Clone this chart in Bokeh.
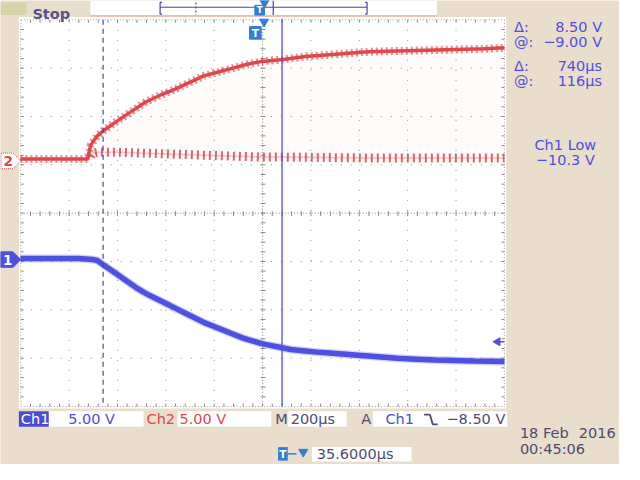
from bokeh.plotting import figure
from bokeh.models import Range1d
from bokeh.core.properties import value
from bokeh.embed import file_html
from bokeh.resources import INLINE

# ---------------- data ----------------
# Ch1 (blue), time relative to trigger in microseconds, volts
ch1_time_us = [-966, -728, -668, -648, -620, -596, -568, -528, -488, -448, -408, -368,
               -328, -288, -248, -208, -168, -128, -88, -48, -8, 32, 72, 112, 152,
               212, 272, 352, 432, 512, 592, 672, 752, 832, 912, 1036]
ch1_volts = [0.1, 0.1, 0.0, -0.1, -0.6, -1.0, -1.5, -2.2, -2.9, -3.5, -4.0, -4.5,
             -5.0, -5.5, -6.0, -6.5, -6.9, -7.3, -7.7, -8.1, -8.4, -8.7, -8.9, -9.1, -9.3,
             -9.45, -9.6, -9.75, -9.9, -10.05, -10.2, -10.3, -10.4, -10.45, -10.5, -10.55]

# Ch2 (red): upper envelope and lower envelope of the switching waveform
ch2_time_us = [-966, -688, -676, -668, -648, -624, -568, -508, -448, -388, -328, -268,
               -208, -148, -88, -28, 32, 120, 212, 312, 392, 472, 552, 632, 712, 792,
               872, 952, 1036]
ch2_upper_volts = [0.2, 0.2, 1.6, 1.9, 2.6, 3.1, 4.1, 5.1, 6.1, 6.8, 7.4, 8.1,
                   8.8, 9.2, 9.6, 10.0, 10.3, 10.5, 10.8, 11.0, 11.15, 11.3, 11.35, 11.4, 11.45, 11.5,
                   11.55, 11.6, 11.7]
ch2_lower_volts = [0.2, 0.2, 0.5, 0.8, 0.9, 0.9, 0.9, 0.85, 0.8, 0.75, 0.7, 0.65,
                   0.6, 0.55, 0.5, 0.45, 0.4, 0.4, 0.38, 0.35, 0.33, 0.3, 0.3, 0.3, 0.3, 0.3,
                   0.3, 0.3, 0.3]

# scope settings
ch1_volts_per_div = 5.0
ch2_volts_per_div = 5.0
ch1_offset_div = -0.96
ch2_offset_div = 1.08
time_per_div_us = 200.0
horiz_position_us = 35.6
cursor_times_us = [-624.0, 116.0]
trigger_level_v = -8.50

readout_labels = ["Δ:", "@:", "Δ:", "@:"]
readout_values = ["8.50 V", "−9.00 V", "740µs", "116µs"]
meas_lines = ["Ch1 Low", "−10.3 V"]

# ---------------- layout: reference-screen coordinates (640 x 480), drawn scaled ----------------
RW, RH = 640, 480
H = 464
S = H / RH
W = int(round(RW * S))
GX0, GX1, GY0, GY1 = 21, 521, 20, 420
DIV = 50.0
CX = (GX0 + GX1) / 2.0
CY = (GY0 + GY1) / 2.0

def fs(px):
    return value("%.1fpx" % (px * S))

BEIGE = "#E9DDCB"
BLUE = "#5050E0"
DBLUE = "#4545B8"
RED = "#E0474C"
DARK = "#4E4C72"
GRID = "#8A8A8A"
TBLUE = "#2F7FD9"
FONT = value("DejaVu Sans")

p = figure(width=W, height=H, x_range=Range1d(0, RW), y_range=Range1d(RH, 0),
           x_axis_type=None, y_axis_type=None, toolbar_location=None,
           output_backend="svg", min_border=0)
p.background_fill_color = BEIGE
p.border_fill_color = BEIGE
p.outline_line_color = None
p.grid.visible = False

# scales for the traces
us_per_px = time_per_div_us / DIV
t_left = horiz_position_us + (0 - CX) * us_per_px
t_right = horiz_position_us + (RW - CX) * us_per_px
def vrange(vpd, off_div):
    vpp = vpd / DIV
    gnd = CY - off_div * DIV
    return Range1d((gnd - RH) * vpp, gnd * vpp)
p.extra_x_ranges = {"time": Range1d(t_left, t_right)}
p.extra_y_ranges = {"ch1": vrange(ch1_volts_per_div, ch1_offset_div),
                    "ch2": vrange(ch2_volts_per_div, ch2_offset_div)}

# ---------------- graticule ----------------
p.quad(left=[19], right=[523], top=[17], bottom=[422], fill_color="white", line_color=None)
vx = [GX0 + DIV * i for i in range(1, 10) if i != 5]
hy = [GY0 + DIV * i for i in range(1, 8) if i != 4]
p.multi_line(xs=[[x, x] for x in vx], ys=[[GY0, GY1] for _ in vx],
             line_color=GRID, line_width=1, line_dash="1 9")
p.multi_line(xs=[[GX0, GX1] for _ in hy], ys=[[y, y] for y in hy],
             line_color=GRID, line_width=1, line_dash="1 9")
p.multi_line(xs=[[CX, CX], [GX0, GX1]], ys=[[GY0, GY1], [CY, CY]],
             line_color=GRID, line_width=1, line_dash="1 2")
p.multi_line(xs=[[GX0, GX0], [GX1, GX1], [GX0, GX1], [GX0, GX1]],
             ys=[[GY0, GY1], [GY0, GY1], [GY0, GY0], [GY1, GY1]],
             line_color=GRID, line_width=1, line_dash="1 2", line_alpha=0.8)
tx = [GX0 + 10 * k for k in range(1, 50)]
ty = [GY0 + 10 * k for k in range(1, 40)]
sx0, sy0, sx1, sy1 = [], [], [], []
for x in tx:
    sx0 += [x, x, x]; sx1 += [x, x, x]
    sy0 += [CY - 2, GY0, GY1 - 3]; sy1 += [CY + 3, GY0 + 3, GY1]
for y in ty:
    sy0 += [y, y, y]; sy1 += [y, y, y]
    sx0 += [CX - 2, GX0, GX1 - 3]; sx1 += [CX + 3, GX0 + 3, GX1]
p.segment(x0=sx0, y0=sy0, x1=sx1, y1=sy1, line_color=GRID, line_width=1)

# ---------------- traces ----------------
lo_t = [t for t in ch2_time_us if t >= -676]
lo_v = [v for t, v in zip(ch2_time_us, ch2_lower_volts) if t >= -676]
p.varea(x=ch2_time_us, y1=ch2_lower_volts, y2=ch2_upper_volts, fill_color="#E8A8A8",
        fill_alpha=0.045, x_range_name="time", y_range_name="ch2")
p.line(lo_t, lo_v, line_color=RED, line_width=9, line_dash="2 4", line_alpha=0.85,
       x_range_name="time", y_range_name="ch2")
p.line(lo_t, lo_v, line_color=RED, line_width=1.5, line_alpha=0.3,
       x_range_name="time", y_range_name="ch2")
p.line(ch2_time_us, ch2_upper_volts, line_color=RED, line_width=8, line_dash="2 3",
       line_alpha=0.6, x_range_name="time", y_range_name="ch2")
p.line(ch2_time_us, ch2_upper_volts, line_color=RED, line_width=3.5,
       x_range_name="time", y_range_name="ch2")

p.line(ch1_time_us, ch1_volts, line_color="#6A6AF0", line_width=8, line_alpha=0.3,
       x_range_name="time", y_range_name="ch1")
p.line(ch1_time_us, ch1_volts, line_color=BLUE, line_width=5.5,
       x_range_name="time", y_range_name="ch1")

# cursors
p.line([cursor_times_us[0]] * 2, [GY0, GY1], line_color=DBLUE, line_width=1.2,
       line_dash="5 4", x_range_name="time")
p.line([cursor_times_us[1]] * 2, [GY0 - 1, GY1], line_color=BLUE, line_width=1.3,
       x_range_name="time")

# trigger level arrow (right edge), on ch1 scale
p.triangle(x=[514], y=[trigger_level_v], size=8, angle=1.5708, fill_color=BLUE,
           line_color=BLUE, y_range_name="ch1")
p.line([514, GX1], [trigger_level_v] * 2, line_color=BLUE, line_width=1.5, y_range_name="ch1")

# trigger position markers
p.triangle(x=[272.5], y=[22], size=9, angle=3.1416, fill_color=TBLUE, line_color=TBLUE)
p.quad(left=[257.5], right=[269.5], top=[27], bottom=[40], fill_color=TBLUE, line_color=TBLUE)
p.text(x=[263.5], y=[33.5], text=["T"], text_color="white", text_font=FONT,
       text_font_style="bold", text_font_size=fs(11), text_align="center",
       text_baseline="middle")

# channel ground markers on the left
g1 = CY - ch1_offset_div * DIV
g2 = CY - ch2_offset_div * DIV
p.patch(x=[0, 13, 21, 13, 0], y=[g1 - 8, g1 - 8, g1, g1 + 8, g1 + 8], fill_color=BLUE, line_color=BLUE)
p.text(x=[7.5], y=[g1], text=["1"], text_color="white", text_font=FONT, text_font_style="bold",
       text_font_size=fs(14), text_align="center", text_baseline="middle")
p.patch(x=[0.5, 13, 21, 13, 0.5], y=[g2 - 8, g2 - 8, g2, g2 + 8, g2 + 8], fill_color="white",
        line_color=RED, line_dash="1 1")
p.text(x=[8], y=[g2], text=["2"], text_color=RED, text_font=FONT, text_font_style="bold",
       text_font_size=fs(14), text_align="center", text_baseline="middle")

# ---------------- header ----------------
p.quad(left=[0], right=[27], top=[2], bottom=[15], fill_color="#D8D2A8", line_color=None)
p.text(x=[33], y=[14], text=["Stop"], text_color="#57538A", text_font=FONT,
       text_font_style="bold", text_font_size=fs(15), text_baseline="alphabetic")
p.quad(left=[93], right=[451], top=[0], bottom=[15], fill_color="white", line_color=None)
p.line([93, 451], [16, 16], line_color="#E3A8A8", line_width=1)
p.line([165, 379], [7, 7], line_color=DBLUE, line_width=1.2)
p.multi_line(xs=[[167, 165, 165, 167], [377, 379, 379, 377], [282, 282]],
             ys=[[2, 2, 14, 14], [2, 2, 14, 14], [0, 15]], line_color=DBLUE, line_width=1.2)
p.line([202, 202], [2, 15], line_color=DBLUE, line_width=1.2, line_dash="2 2")
p.triangle(x=[273], y=[2.5], size=9, angle=3.1416, fill_color=TBLUE, line_color=TBLUE)
p.quad(left=[263], right=[273], top=[5], bottom=[15], fill_color=TBLUE, line_color=TBLUE)
p.text(x=[268], y=[10], text=["T"], text_color="white", text_font=FONT, text_font_style="bold",
       text_font_size=fs(9), text_align="center", text_baseline="middle")

# ---------------- right readouts ----------------
ry = [27, 43, 68, 83]
p.text(x=[531] * 4, y=ry, text=readout_labels, text_color=BLUE, text_font=FONT,
       text_font_size=fs(15), text_baseline="middle")
p.text(x=[622] * 4, y=ry, text=readout_values, text_color=BLUE, text_font=FONT,
       text_font_size=fs(15), text_align="right", text_baseline="middle")
p.text(x=[584, 584], y=[149, 165], text=meas_lines, text_color=BLUE, text_font=FONT,
       text_font_size=fs(15), text_align="center", text_baseline="middle")

# ---------------- bottom status ----------------
by = 433
p.quad(left=[19], right=[50], top=[425], bottom=[441], fill_color="#4B4BD8", line_color=None)
p.quad(left=[50, 183, 297, 385], right=[148, 280, 358, 524], top=[425] * 4, bottom=[441] * 4,
       fill_color="white", line_color=None)
p.text(x=[21], y=[by], text=["Ch1"], text_color="white", text_font=FONT,
       text_font_size=fs(15), text_baseline="middle")
p.text(x=[70], y=[by], text=["%.2f V" % ch1_volts_per_div], text_color="#4B4BD8", text_font=FONT,
       text_font_size=fs(15), text_baseline="middle")
p.text(x=[151, 185], y=[by, by], text=["Ch2", "%.2f V" % ch2_volts_per_div], text_color=RED,
       text_font=FONT, text_font_size=fs(15), text_baseline="middle")
p.text(x=[284, 300, 373], y=[by] * 3, text=["M", "%dµs" % time_per_div_us, "A"], text_color=DARK,
       text_font=FONT, text_font_size=fs(15), text_baseline="middle")
p.text(x=[398], y=[by], text=["Ch1"], text_color="#4B4BD8", text_font=FONT,
       text_font_size=fs(15), text_baseline="middle")
p.line([438, 444, 447, 452], [428.5, 428.5, 438.5, 438.5], line_color=DARK, line_width=1.8)
p.text(x=[522], y=[by], text=["−%.2f V" % abs(trigger_level_v)], text_color=DARK, text_font=FONT,
       text_font_size=fs(15), text_align="right", text_baseline="middle")

p.text(x=[537, 636], y=[447, 447], text=["18 Feb", "2016"], text_color=DARK, text_font=FONT,
       text_font_size=fs(15), text_align=["left", "right"], text_baseline="middle")
p.text(x=[537], y=[464], text=["00:45:06"], text_color=DARK, text_font=FONT,
       text_font_size=fs(15), text_baseline="middle")

p.quad(left=[287], right=[297], top=[462], bottom=[476], fill_color=TBLUE, line_color=None)
p.text(x=[292], y=[469], text=["T"], text_color="white", text_font=FONT, text_font_style="bold",
       text_font_size=fs(11), text_align="center", text_baseline="middle")
p.line([297, 306], [469, 469], line_color=TBLUE, line_width=1.5)
p.triangle(x=[313], y=[467], size=9, angle=3.1416, fill_color=TBLUE, line_color=TBLUE)
p.quad(left=[322], right=[425], top=[462], bottom=[477], fill_color="white", line_color=None)
p.text(x=[327], y=[469.5], text=["%.4fµs" % horiz_position_us], text_color=DARK, text_font=FONT,
       text_font_size=fs(15), text_baseline="middle")

open("out.html", "w").write(file_html(p, INLINE))
